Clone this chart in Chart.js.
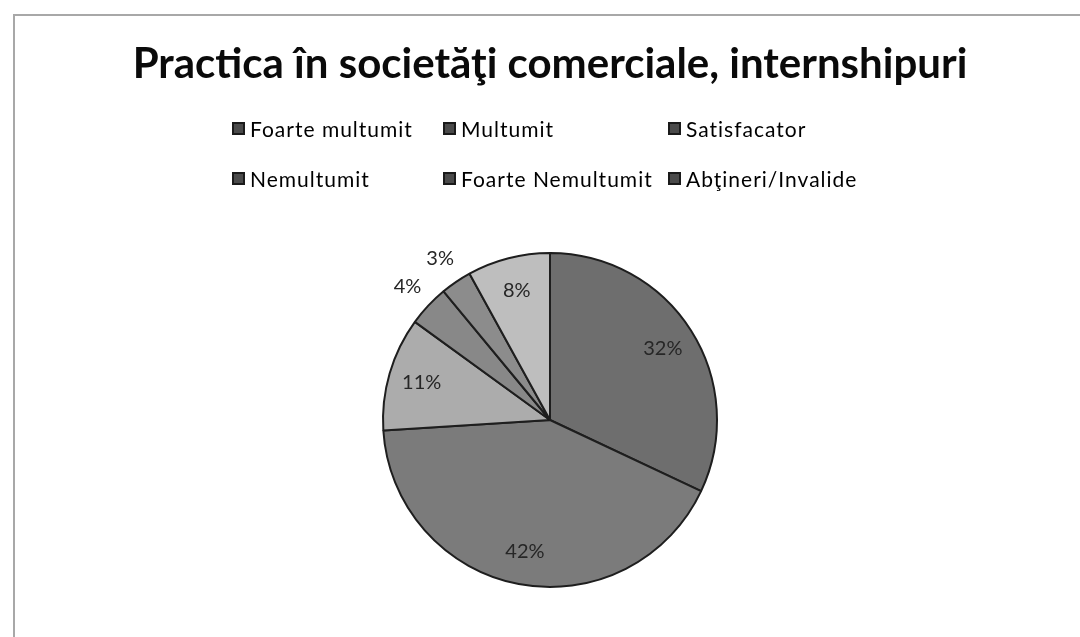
<!DOCTYPE html>
<html>
<head>
<meta charset="utf-8">
<script src="https://cdn.jsdelivr.net/npm/chart.js@4/dist/chart.umd.min.js"></script>
<style>
  html, body { margin: 0; padding: 0; background: #fff; overflow: hidden; }
  #wrap { position: relative; width: 1080px; height: 637px; }
  #frame { position: absolute; left: 13px; top: 14px; width: 1200px; height: 800px;
           border: 2px solid #a8a8a8; box-sizing: border-box; }
  #pie { position: absolute; left: 0; top: 0; }
  #legend { position: absolute; left: 232px; top: 115px; display: grid;
            grid-template-columns: 211px 225px auto; row-gap: 24px;
            font-family: Lato, "Open Sans", sans-serif; font-size: 21px; letter-spacing: 1px; color: #000; }
  #legend .item { display: flex; align-items: center; height: 26px; white-space: nowrap; }
  #legend .box { width: 9px; height: 9px; border: 2px solid #1a1a1a; margin-right: 5px; }
</style>
</head>
<body>
<div id="wrap">
  <div id="frame"></div>
  <canvas id="pie" width="1080" height="637"></canvas>
  <div id="legend"></div>
</div>
<script>
    const CHART_TITLE = 'Practica în societăţi comerciale, internshipuri' ;
    const CATEGORIES  = [ 'Foarte multumit', 'Multumit', 'Satisfacator',
                          'Nemultumit', 'Foarte Nemultumit', 'Abţineri/Invalide' ] ;
    const PERCENTAGES = [ 32, 42, 11, 4, 3, 8 ] ;
    const SLICE_COLORS = [ '#6e6e6e', '#7b7b7b', '#acacac', '#888888', '#8c8c8c', '#bebebe' ] ;

    const BORDER_COLOR   = '#1e1e1e' ;
    const LABEL_COLOR    = '#262626' ;
    const SMALL_SLICE    = 5 ;

    // ---------------- Percentage labels plugin -------------------------------
    const sliceLabels = {
        id : 'sliceLabels',
        afterDatasetsDraw : function( chart ) {
            const ctx  = chart.ctx ;
            const meta = chart.getDatasetMeta( 0 ) ;
            ctx.save() ;
            ctx.font = '20px Lato, "Open Sans", sans-serif' ;
            ctx.fillStyle = LABEL_COLOR ;
            ctx.textAlign = 'center' ;
            ctx.textBaseline = 'middle' ;
            meta.data.forEach( function( arc, i ) {
                const p = arc.getProps( [ 'x', 'y', 'startAngle', 'endAngle', 'outerRadius' ], true ) ;
                const mid = ( p.startAngle + p.endAngle ) / 2 ;
                const f = ( PERCENTAGES[i] < SMALL_SLICE ) ? 1.17 : 0.8 ;
                const r = p.outerRadius * f ;
                ctx.fillText( PERCENTAGES[i] + '%', p.x + Math.cos( mid ) * r, p.y + Math.sin( mid ) * r ) ;
            } ) ;
            ctx.restore() ;
        }
    } ;

    // ---------------- Chart ---------------------------------------------------
    const chart = new Chart( document.getElementById( 'pie' ), {
        type : 'pie',
        data : {
            labels : CATEGORIES,
            datasets : [ {
                data            : PERCENTAGES,
                backgroundColor : SLICE_COLORS,
                borderColor     : BORDER_COLOR,
                borderWidth     : 2,
            } ]
        },
        options : {
            responsive : false,
            animation  : false,
            layout : {
                padding : { left: 20, right: 0, top: 0, bottom: 49 }
            },
            plugins : {
                legend  : { display: false },
                tooltip : { enabled: false },
                title : {
                    display : true,
                    text    : CHART_TITLE,
                    color   : '#0a0a0a',
                    font    : { family: 'Lato, "Open Sans", sans-serif', size: 42, weight: 'bold', lineHeight: 1.2 },
                    padding : { top: 39, bottom: 162.6 }
                }
            }
        },
        plugins : [ sliceLabels ]
    } ) ;

    // ---------------- HTML legend (Excel-style column grid) ------------------
    const legendEl = document.getElementById( 'legend' ) ;
    for( var i=0; i<CATEGORIES.length; i++ ) {
        const item = document.createElement( 'div' ) ;
        item.className = 'item' ;
        const box = document.createElement( 'span' ) ;
        box.className = 'box' ;
        box.style.background = '#4a4a4a' ;
        item.appendChild( box ) ;
        item.appendChild( document.createTextNode( CATEGORIES[i] ) ) ;
        legendEl.appendChild( item ) ;
    }
</script>
</body>
</html>
